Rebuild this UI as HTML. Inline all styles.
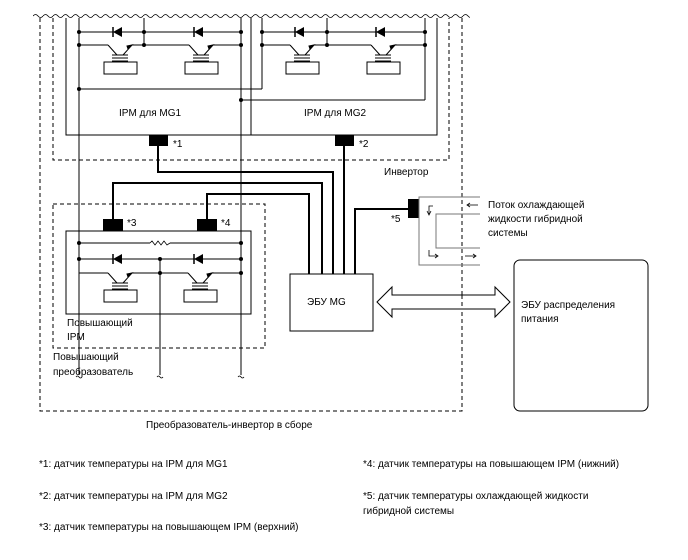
<!DOCTYPE html>
<html><head><meta charset="utf-8"><style>
body{margin:0;background:#fff}
svg{display:block}
text{font-family:"Liberation Sans",Arial,sans-serif;font-size:10px;fill:#000}
</style></head><body>
<svg width="688" height="560" viewBox="0 0 688 560" xmlns="http://www.w3.org/2000/svg">
<defs>
<g id="tr" fill="none" stroke="#000" stroke-width="1">
 <path d="M-12,0 L-3,10 M3,10 L12,0"/>
 <path d="M8,4 l4,-4 l-5,1 z" fill="#000"/>
 <line x1="-8" y1="10" x2="8" y2="10"/>
 <line x1="-8" y1="13" x2="8" y2="13"/>
 <line x1="-8" y1="16" x2="8" y2="16"/>
 <rect x="-16" y="17" width="33" height="12"/>
</g>
<g id="di"><path d="M-5,0 L4,-5 L4,5 Z" fill="#000"/><line x1="-5" y1="-5" x2="-5" y2="5" stroke="#000" stroke-width="1.5"/></g>
<pattern id="wv" x="33" y="12" width="10" height="8" patternUnits="userSpaceOnUse">
 <path d="M0,4 q2.5,-3 5,0 q2.5,3 5,0" fill="none" stroke="#000" stroke-width="0.8"/>
</pattern>
</defs>

<!-- wavy top -->
<rect x="33" y="12" width="437" height="8" fill="url(#wv)"/>

<g fill="none" stroke="#000" stroke-width="1" stroke-dasharray="4,3">
 <path d="M40,18 V411 H462 V18"/>
 <path d="M53,18 V160 H449 V18"/>
 <rect x="53" y="204" width="212" height="144"/>
</g>

<g fill="none" stroke="#000" stroke-width="1">
 <path d="M66,18 V135 H437 V18 M251,18 V135"/>
 <line x1="79" y1="18" x2="79" y2="375"/>
 <line x1="241" y1="18" x2="241" y2="375"/>
 <line x1="79" y1="32" x2="241" y2="32"/>
 <line x1="79" y1="45" x2="241" y2="45"/>
 <line x1="144" y1="18" x2="144" y2="45"/>
 <line x1="79" y1="89" x2="262" y2="89"/>
 <line x1="262" y1="18" x2="262" y2="89"/>
 <line x1="425" y1="18" x2="425" y2="100"/>
 <line x1="262" y1="32" x2="425" y2="32"/>
 <line x1="262" y1="45" x2="425" y2="45"/>
 <line x1="327" y1="18" x2="327" y2="45"/>
 <line x1="241" y1="100" x2="425" y2="100"/>
 <rect x="66" y="231" width="185" height="83"/>
 <line x1="79" y1="243" x2="241" y2="243"/>
 <line x1="79" y1="259" x2="241" y2="259"/>
 <line x1="79" y1="273" x2="241" y2="273"/>
 <line x1="160" y1="259" x2="160" y2="375"/>
 <rect x="290" y="274" width="83" height="57"/>
</g>
<line x1="108" y1="45" x2="132" y2="45" stroke="#fff" stroke-width="2"/>
<line x1="189" y1="45" x2="213" y2="45" stroke="#fff" stroke-width="2"/>
<line x1="290" y1="45" x2="314" y2="45" stroke="#fff" stroke-width="2"/>
<line x1="371" y1="45" x2="395" y2="45" stroke="#fff" stroke-width="2"/>
<line x1="108" y1="273" x2="132" y2="273" stroke="#fff" stroke-width="2"/>
<line x1="188" y1="273" x2="212" y2="273" stroke="#fff" stroke-width="2"/>
<use href="#tr" x="120" y="45"/><use href="#tr" x="201" y="45"/>
<use href="#tr" x="302" y="45"/><use href="#tr" x="383" y="45"/>
<use href="#tr" x="120" y="273"/><use href="#tr" x="200" y="273"/>
<use href="#di" x="118" y="32"/><use href="#di" x="199" y="32"/>
<use href="#di" x="300" y="32"/><use href="#di" x="381" y="32"/>
<use href="#di" x="118" y="259"/><use href="#di" x="199" y="259"/>
<line x1="150" y1="243" x2="170" y2="243" stroke="#fff" stroke-width="2"/>
<path d="M150,243 l2,-2 l3,4 l3,-4 l3,4 l3,-4 l3,4 l3,-2" fill="none" stroke="#000" stroke-width="0.8"/>
<g fill="#000">
 <circle cx="79" cy="32" r="2"/><circle cx="144" cy="32" r="2"/><circle cx="241" cy="32" r="2"/>
 <circle cx="79" cy="45" r="2"/><circle cx="144" cy="45" r="2"/><circle cx="241" cy="45" r="2"/>
 <circle cx="262" cy="32" r="2"/><circle cx="327" cy="32" r="2"/><circle cx="425" cy="32" r="2"/>
 <circle cx="262" cy="45" r="2"/><circle cx="327" cy="45" r="2"/><circle cx="425" cy="45" r="2"/>
 <circle cx="79" cy="89" r="2"/><circle cx="241" cy="100" r="2"/>
 <circle cx="79" cy="243" r="2"/><circle cx="241" cy="243" r="2"/>
 <circle cx="79" cy="259" r="2"/><circle cx="160" cy="259" r="2"/><circle cx="241" cy="259" r="2"/>
 <circle cx="160" cy="273" r="2"/><circle cx="241" cy="273" r="2"/>
 <rect x="149" y="135" width="19" height="11"/>
 <rect x="335" y="135" width="19" height="11"/>
 <rect x="103" y="219" width="20" height="12"/>
 <rect x="197" y="219" width="20" height="12"/>
 <rect x="408" y="199" width="11" height="19"/>
</g>
<g fill="none" stroke="#000" stroke-width="0.8">
 <path d="M76,377 q1.5,-2 3,0 q1.5,2 3,0"/>
 <path d="M157,377 q1.5,-2 3,0 q1.5,2 3,0"/>
 <path d="M238,377 q1.5,-2 3,0 q1.5,2 3,0"/>
</g>
<g fill="none" stroke="#000" stroke-width="2">
 <path d="M158,146 V172 H333 V274"/>
 <path d="M344,146 V274"/>
 <path d="M113,219 V183 H322 V274"/>
 <path d="M207,219 V194 H309 V274"/>
 <path d="M355,274 V209 H408"/>
</g>
<g fill="none" stroke="#777" stroke-width="1">
 <path d="M480,197 H419 V265 H480"/>
 <path d="M480,214 H436 V248 H480"/>
</g>
<g fill="none" stroke="#000" stroke-width="0.8">
 <path d="M429,214 V206 H433"/><path d="M427,211 l2,4 l2,-4"/>
 <path d="M429,250 V256 H437"/><path d="M435,254 l3,2 l-3,2"/>
 <path d="M467,205 H478"/><path d="M470,203 l-3,2 l3,2"/>
 <path d="M465,256 H476"/><path d="M473,254 l3,2 l-3,2"/>
</g>
<path d="M377,302 L392,287 V295 H495 V287 L510,302 L495,317 V309 H392 V317 Z" fill="#fff" stroke="#000" stroke-width="1"/>
<line x1="462" y1="295" x2="462" y2="309" stroke="#000" stroke-dasharray="4,3"/>
<rect x="514" y="260" width="134" height="151" rx="6" fill="none" stroke="#000" stroke-width="1"/>

<text x="119" y="116">IPM для MG1</text>
<text x="304" y="116">IPM для MG2</text>
<text x="173" y="147">*1</text>
<text x="359" y="147">*2</text>
<text x="384" y="175">Инвертор</text>
<text x="127" y="226">*3</text>
<text x="221" y="226">*4</text>
<text x="391" y="222">*5</text>
<text x="67" y="326">Повышающий</text>
<text x="67" y="340">IPM</text>
<text x="53" y="360">Повышающий</text>
<text x="53" y="375">преобразователь</text>
<text x="307" y="305">ЭБУ MG</text>
<text x="488" y="208">Поток охлаждающей</text>
<text x="488" y="222">жидкости гибридной</text>
<text x="488" y="236">системы</text>
<text x="521" y="308">ЭБУ распределения</text>
<text x="521" y="322">питания</text>
<text x="146" y="428">Преобразователь-инвертор в сборе</text>
<text x="39" y="467">*1: датчик температуры на IPM для MG1</text>
<text x="39" y="499">*2: датчик температуры на IPM для MG2</text>
<text x="39" y="530">*3: датчик температуры на повышающем IPM (верхний)</text>
<text x="363" y="467">*4: датчик температуры на повышающем IPM (нижний)</text>
<text x="363" y="499">*5: датчик температуры охлаждающей жидкости</text>
<text x="363" y="514">гибридной системы</text>
</svg>
</body></html>
